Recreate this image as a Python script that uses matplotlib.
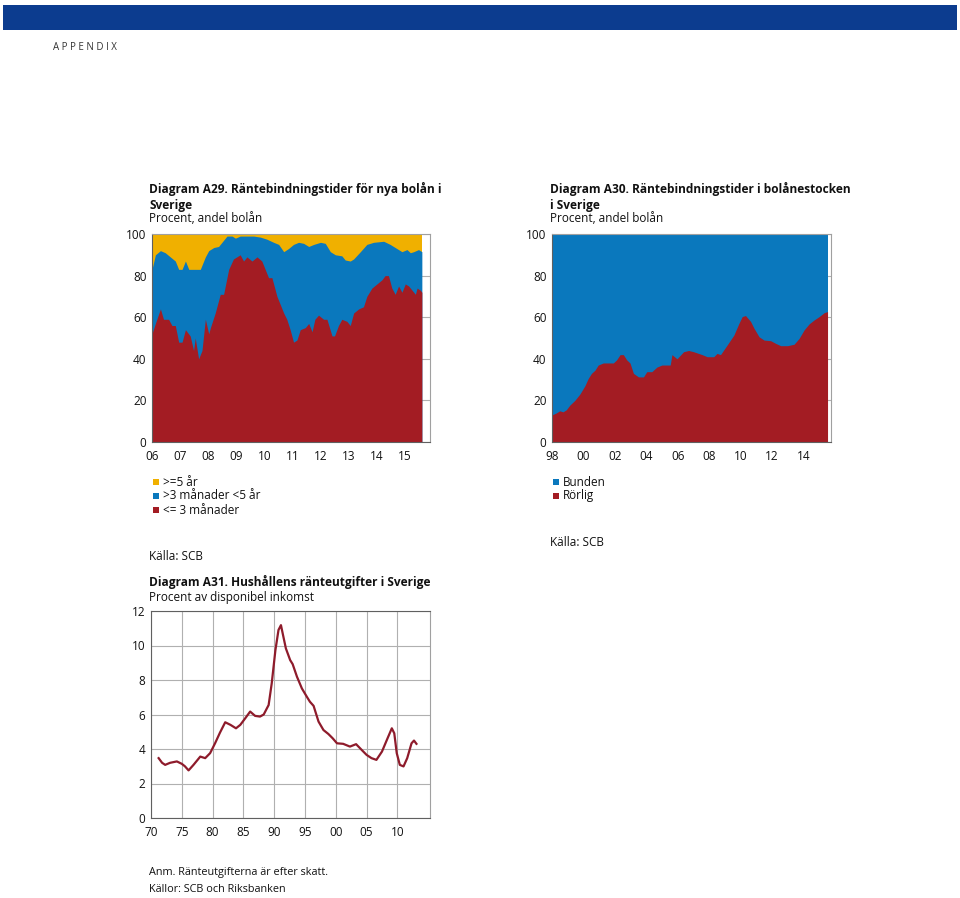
import matplotlib.pyplot as plt
from matplotlib.patches import Rectangle
import numpy as np

plt.rcParams['font.family'] = ['Open Sans', 'DejaVu Sans']

# Diagram A29, nya bolån (andel, procent)
a29_x_rorlig = [2006.0, 2006.12, 2006.3, 2006.41, 2006.59, 2006.71, 2006.83, 2006.95, 2007.07,
                2007.19, 2007.36, 2007.48, 2007.54, 2007.66, 2007.78, 2007.9, 2008.02, 2008.08,
                2008.25, 2008.43, 2008.55, 2008.73, 2008.9, 2009.02, 2009.14, 2009.26, 2009.38,
                2009.56, 2009.74, 2009.91, 2010.15, 2010.27, 2010.45, 2010.69, 2010.8, 2010.92,
                2011.04, 2011.16, 2011.28, 2011.46, 2011.58, 2011.7, 2011.8, 2011.93, 2012.11,
                2012.23, 2012.41, 2012.5, 2012.64, 2012.76, 2012.94, 2013.06, 2013.18, 2013.36,
                2013.53, 2013.65, 2013.83, 2014.01, 2014.19, 2014.3, 2014.42, 2014.54, 2014.66,
                2014.78, 2014.9, 2015.02, 2015.14, 2015.26, 2015.38, 2015.44, 2015.55, 2015.61]
a29_rorlig = [52, 57, 64, 59, 59, 56, 56, 48, 48, 54, 51, 44, 50, 40, 44, 59, 52, 55,
              62, 71, 71, 83, 88, 89, 90, 87, 89, 87, 89, 87, 79, 79, 70, 62, 59, 54,
              48, 49, 54, 55, 57, 53, 59, 61, 59, 59, 51, 51, 56, 59, 58, 56, 62, 64,
              65, 70, 74, 76, 78, 80, 80, 74, 71, 75, 72, 76, 75, 73, 71, 74, 73, 72]

a29_x_under5 = [2006.0, 2006.12, 2006.3, 2006.47, 2006.65, 2006.83, 2006.95, 2007.07, 2007.19,
                2007.31, 2007.48, 2007.72, 2007.9, 2008.02, 2008.2, 2008.37, 2008.49, 2008.67,
                2008.85, 2008.97, 2009.14, 2009.62, 2009.86, 2010.09, 2010.33, 2010.51, 2010.69,
                2010.86, 2011.04, 2011.22, 2011.4, 2011.58, 2011.76, 2012.0, 2012.17, 2012.35,
                2012.53, 2012.76, 2012.88, 2013.06, 2013.18, 2013.42, 2013.65, 2013.89, 2014.25,
                2014.48, 2014.72, 2014.9, 2015.08, 2015.2, 2015.32, 2015.49, 2015.61]
a29_under5 = [83, 90, 92, 91, 89, 87, 83, 83, 87, 83, 83, 83, 89, 92, 93.5, 94, 96, 99,
              99, 98, 99, 99, 98.5, 97.5, 96, 95, 91.5, 93, 95, 96, 95.5, 94, 95, 96,
              95.5, 91.5, 90, 89.5, 87.5, 87, 88, 91.5, 95, 96, 96.5, 95, 93, 91.5, 92.5,
              91, 91.5, 92.5, 91.5]

# Diagram A30, bolånestocken
a30_x = [1998.0, 1998.28, 1998.49, 1998.7, 1998.91, 1999.13, 1999.45, 1999.77, 2000.09,
         2000.3, 2000.51, 2000.73, 2000.94, 2001.26, 2001.69, 2001.9, 2002.11, 2002.33,
         2002.54, 2002.75, 2002.96, 2003.18, 2003.5, 2003.82, 2004.03, 2004.35, 2004.67,
         2004.99, 2005.52, 2005.63, 2005.95, 2006.37, 2006.69, 2007.01, 2007.55, 2007.87,
         2008.29, 2008.5, 2008.72, 2009.14, 2009.57, 2009.89, 2010.1, 2010.31, 2010.63,
         2010.85, 2011.17, 2011.49, 2011.91, 2012.23, 2012.55, 2012.98, 2013.4, 2013.72,
         2014.04, 2014.36, 2014.68, 2015.0, 2015.32, 2015.53]
a30_rorlig = [13, 14, 15, 14.5, 15.5, 17.7, 20, 23, 27, 30.5, 33, 34.5, 37, 38, 38, 38,
              39.5, 42, 42, 39.5, 38, 33, 31.3, 31.3, 33.8, 33.8, 36, 37, 37, 42, 40,
              43.4, 44, 43.4, 42, 41, 41, 42.6, 42, 46.6, 51.4, 57, 60.3, 60.8, 58,
              54.7, 50.6, 49, 48.7, 47.4, 46.3, 46.3, 47, 49.8, 53.9, 56.8, 58.7, 60.3,
              62.2, 62.7]

# Diagram A31, ränteutgifter
a31_ar = [1971.24, 1971.8, 1972.3, 1973.1, 1974.2, 1975.0, 1975.5, 1976.1, 1976.9, 1978.0,
          1978.8, 1979.6, 1980.4, 1981.2, 1982.05, 1982.9, 1983.8, 1984.5, 1985.3, 1986.1,
          1986.9, 1987.7, 1988.3, 1989.1, 1989.6, 1990.2, 1990.7, 1991.1, 1991.5, 1991.9,
          1992.6, 1993.0, 1993.7, 1994.5, 1995.3, 1995.8, 1996.4, 1997.2, 1998.0, 1998.8,
          1999.5, 2000.2, 2001.2, 2002.3, 2003.3, 2004.2, 2005.0, 2005.8, 2006.6, 2007.5,
          2008.3, 2009.1, 2009.5, 2009.9, 2010.4, 2011.0, 2011.6, 2012.3, 2012.7, 2013.1]
a31_procent = [3.47, 3.2, 3.08, 3.2, 3.28, 3.14, 3.0, 2.76, 3.08, 3.56, 3.47, 3.76, 4.33,
               4.95, 5.55, 5.4, 5.2, 5.4, 5.78, 6.17, 5.92, 5.88, 6.0, 6.55, 7.8, 9.73,
               10.9, 11.18, 10.5, 9.83, 9.15, 8.92, 8.19, 7.51, 7.03, 6.74, 6.5, 5.59, 5.1,
               4.87, 4.62, 4.33, 4.3, 4.14, 4.28, 3.95, 3.66, 3.47, 3.37, 3.85, 4.53, 5.2,
               4.91, 3.76, 3.08, 2.99, 3.47, 4.33, 4.49, 4.3]

gul = '#f0b000'
bla = '#0a78bd'
rod = '#a31c23'
linjerod = '#8e1b2b'
W, H = 960, 898

fig = plt.figure(figsize=(W / 100, H / 100), dpi=100)


def fx(x):
    return x / W


def fy(y):
    return 1 - y / H


def box(x0, y0, x1, y1):
    return [fx(x0), fy(y1), fx(x1 - x0), (y1 - y0) / H]


def txt(x, y, s, bold=False, size=8.5, color='#111111', **kw):
    fig.text(fx(x), fy(y), s, fontsize=size, color=color, va='center',
             fontweight='bold' if bold else 'normal', **kw)


def style_axes(ax, grid_x=False):
    for side in ['top', 'right']:
        ax.spines[side].set_color('#a0a0a0')
        ax.spines[side].set_linewidth(0.8)
    for side in ['left', 'bottom']:
        ax.spines[side].set_color('#606060')
        ax.spines[side].set_linewidth(0.8)
    ax.tick_params(axis='both', length=0, labelsize=8.5, colors='#111111')
    ax.tick_params(axis='y', pad=4)
    ax.tick_params(axis='x', pad=6)
    ax.grid(axis='y', color='#b0b0b0', linewidth=0.8)
    if grid_x:
        ax.grid(axis='x', color='#b0b0b0', linewidth=0.8)
    ax.set_axisbelow(True)


# banner
fig.patches.append(Rectangle((fx(3), fy(30)), fx(954), 25 / H, transform=fig.transFigure,
                             facecolor='#0c3c8f', edgecolor='none'))
txt(53, 48, 'A P P E N D I X', size=7, color='#333333')

# ---- A29
ax1 = fig.add_axes(box(152, 234, 430, 442))
ax1.fill_between([a29_x_rorlig[0], a29_x_rorlig[-1]], 0, 100, color=gul, linewidth=0)
ax1.fill_between(a29_x_under5, 0, a29_under5, color=bla, linewidth=0)
ax1.fill_between(a29_x_rorlig, 0, a29_rorlig, color=rod, linewidth=0)
ax1.set_xlim(2006, 2015.9)
ax1.set_ylim(0, 100)
ax1.set_yticks([0, 20, 40, 60, 80, 100])
ax1.set_xticks(range(2006, 2016))
ax1.set_xticklabels(['%02d' % (y % 100) for y in range(2006, 2016)])
style_axes(ax1)

txt(149, 189, 'Diagram A29. Räntebindningstider för nya bolån i', bold=True, size=8.6)
txt(149, 205, 'Sverige', bold=True, size=8.6)
txt(149, 219, 'Procent, andel bolån')

leg29 = [('>=5 år', gul), ('>3 månader <5 år', bla), ('<= 3 månader', rod)]
for i, (lab, col) in enumerate(leg29):
    yy = 482 + i * 14
    fig.patches.append(Rectangle((fx(153), fy(yy + 3)), fx(6), 6 / H,
                                 transform=fig.transFigure, facecolor=col, edgecolor='none'))
    txt(163, yy, lab)
txt(149, 556, 'Källa: SCB')

# ---- A30
ax2 = fig.add_axes(box(552, 234, 831, 442))
ax2.fill_between([a30_x[0], a30_x[-1]], 0, 100, color=bla, linewidth=0)
ax2.fill_between(a30_x, 0, a30_rorlig, color=rod, linewidth=0)
ax2.set_xlim(1998, 2015.75)
ax2.set_ylim(0, 100)
ax2.set_yticks([0, 20, 40, 60, 80, 100])
ax2.set_xticks(range(1998, 2015, 2))
ax2.set_xticklabels(['%02d' % (y % 100) for y in range(1998, 2015, 2)])
style_axes(ax2)

txt(550, 189, 'Diagram A30. Räntebindningstider i bolånestocken', bold=True, size=8.6)
txt(550, 205, 'i Sverige', bold=True, size=8.6)
txt(550, 219, 'Procent, andel bolån')

leg30 = [('Bunden', bla), ('Rörlig', rod)]
for i, (lab, col) in enumerate(leg30):
    yy = 482 + i * 14
    fig.patches.append(Rectangle((fx(553), fy(yy + 3)), fx(6), 6 / H,
                                 transform=fig.transFigure, facecolor=col, edgecolor='none'))
    txt(563, yy, lab)
txt(550, 542, 'Källa: SCB')

# ---- A31
ax3 = fig.add_axes(box(151, 611, 430, 818))
ax3.plot(a31_ar, a31_procent, color=linjerod, linewidth=1.6)
ax3.set_xlim(1970, 2015.3)
ax3.set_ylim(0, 12)
ax3.set_yticks(range(0, 13, 2))
ax3.set_xticks(range(1970, 2011, 5))
ax3.set_xticklabels(['%02d' % (y % 100) for y in range(1970, 2011, 5)])
style_axes(ax3, grid_x=True)
ax3.spines['top'].set_color('#606060')

txt(149, 582, 'Diagram A31. Hushållens ränteutgifter i Sverige', bold=True, size=8.6)
txt(149, 597, 'Procent av disponibel inkomst')
txt(149, 873, 'Anm. Ränteutgifterna är efter skatt.', size=7.8)
txt(149, 890, 'Källor: SCB och Riksbanken', size=7.8)

fig.savefig('out.png', dpi=100)
